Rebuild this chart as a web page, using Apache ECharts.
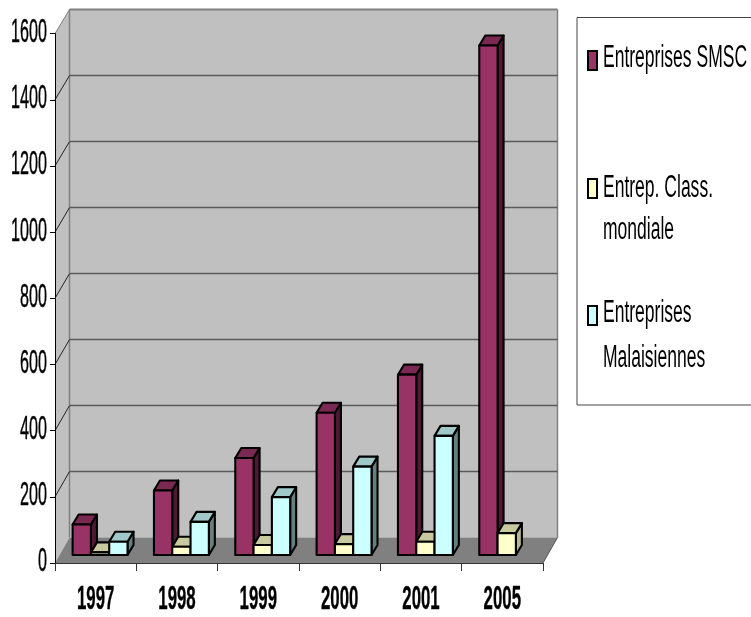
<!DOCTYPE html>
<html><head><meta charset="utf-8">
<style>html,body{margin:0;padding:0;background:#fff}#c{width:751px;height:617px}</style>
<script src="https://cdn.jsdelivr.net/npm/echarts@6/dist/echarts.min.js"></script>
</head><body><div id="c"></div>
<script>
const categories = ['1997','1998','1999','2000','2001','2005'];
const yTicks = [0,200,400,600,800,1000,1200,1400,1600];
const smsc = [92,195,293,430,545,1540];
const classMondiale = [8,25,30,33,40,66];
const malaisiennes = [40,100,175,267,360,null];
const names = ['Entreprises SMSC','Entrep. Class. mondiale','Entreprises Malaisiennes'];

const WALL_DX = 14.5, WALL_DY_BOTTOM = -25.5, WALL_DY_TOP = -24;
const PLANE_DX = 4.4, PLANE_DY = -8;
const BAR_W = 18.3, BAR_DX = 6, BAR_DY = -10;
const palette = [
  {front:'#993366', top:'#7A2952', side:'#4D1A33'},
  {front:'#FFFFCC', top:'#C9C9A0', side:'#B8B890'},
  {front:'#CCFFFF', top:'#A0C8C8', side:'#668080'}
];
const poly = (pts, fill, stroke, lw) => ({type:'polygon', shape:{points:pts},
  style:{fill, stroke: stroke||'none', lineWidth: lw||0, lineJoin:'round'}});
const line = (a,b,stroke,lw) => ({type:'line', shape:{x1:a[0],y1:a[1],x2:b[0],y2:b[1]},
  style:{stroke, lineWidth:lw}});
const backY = (g,y) => y + WALL_DY_BOTTOM + (WALL_DY_TOP-WALL_DY_BOTTOM)*(g.y+g.height-y)/g.height;

function renderWalls(params){
  const g = params.coordSys, l=g.x, r=g.x+g.width, t=g.y, b=g.y+g.height;
  const d=WALL_DX, bt=backY(g,t), bb=backY(g,b);
  return {type:'group', children:[
    poly([[l+d,bt],[r+d,bt],[r+d,bb],[l+d,bb]],'#C0C0C0'),
    poly([[l,t],[l+d,bt],[l+d,bb],[l,b]],'#C0C0C0'),
    poly([[l,b],[r,b],[r+d,bb],[l+d,bb]],'#808080'),
    line([l+d,bt],[l+d,bb],'#808080',1.5),
    line([r+d,bt],[r+d,bb],'#808080',1.5),
    line([r,b],[r+d,bb],'#555',1)
  ]};
}
function renderGrid(params, api){
  const g = params.coordSys, v = api.value(0), y = api.coord([0,v])[1];
  if(v===0) return {type:'group', children:[]};
  const top = v===1600, c = top?'#808080':'#5a5a5a', by = backY(g,y);
  return {type:'group', children:[
    line([g.x,y],[g.x+WALL_DX,by], top?'#808080':'#222', 1),
    line([g.x+WALL_DX,by],[g.x+g.width+WALL_DX,by], c, top?2:1.5)
  ]};
}
function makeBar(si){
  return function(params, api){
    const v = api.value(1);
    if(v==null || isNaN(v)) return {type:'group', children:[]};
    const cat = api.value(0);
    const base = api.coord([cat,0]), topP = api.coord([cat,v]);
    const x0 = base[0]+PLANE_DX+(si-1.5)*BAR_W, x1 = x0+BAR_W;
    const yb = base[1]+PLANE_DY, yt = topP[1]+PLANE_DY;
    const c = palette[si];
    return {type:'group', children:[
      poly([[x1,yb],[x1+BAR_DX,yb+BAR_DY],[x1+BAR_DX,yt+BAR_DY],[x1,yt]], c.side,'#000',2.1),
      poly([[x0,yt],[x1,yt],[x1+BAR_DX,yt+BAR_DY],[x0+BAR_DX,yt+BAR_DY]], c.top,'#000',2.1),
      poly([[x0,yb],[x1,yb],[x1,yt],[x0,yt]], c.front,'#000',2.1)
    ]};
  };
}
function renderYLabel(params, api){
  const v = api.value(0), y = api.coord([0,v])[1];
  return {type:'text', x:params.coordSys.x-8, y:y-1, scaleX:0.475,
    style:{text:String(v), align:'right', verticalAlign:'middle',
      font:'34px "Liberation Sans"', fill:'#000', stroke:'#000', lineWidth:0.5}};
}
function renderXLabel(params, api){
  const i = api.value(0), x = api.coord([i,0])[0];
  return {type:'text', x:x, y:600, scaleX:0.51,
    style:{text:categories[i], align:'center', verticalAlign:'middle',
      font:'bold 33px "Liberation Sans"', fill:'#000', stroke:'#000', lineWidth:0.4}};
}
const rows = a => a.map((v,i)=>[i,v==null?'-':v]);
const series = [
  {type:'custom', coordinateSystem:'cartesian2d', silent:true, clip:false, z:1, data:[[0]], encode:{x:[],y:[]}, renderItem:renderWalls},
  {type:'custom', coordinateSystem:'cartesian2d', silent:true, clip:false, z:1, data:yTicks.map(v=>[v]), encode:{x:[],y:[]}, renderItem:renderGrid}
];
[smsc,classMondiale,malaisiennes].forEach((arr,si)=>{
  series.push({name:names[si], type:'custom', coordinateSystem:'cartesian2d', clip:false, z:4,
    data:rows(arr), encode:{x:0,y:1}, renderItem:makeBar(si)});
});
series.push({type:'custom', coordinateSystem:'cartesian2d', silent:true, clip:false, z:6, data:yTicks.map(v=>[v]), encode:{x:[],y:[]}, renderItem:renderYLabel});
series.push({type:'custom', coordinateSystem:'cartesian2d', silent:true, clip:false, z:6, data:categories.map((c,i)=>[i]), encode:{x:[],y:[]}, renderItem:renderXLabel});

const legendText = (t,y) => ({type:'text', x:603, y:y, scaleX:0.565, z:11,
  style:{text:t, font:'31px "Liberation Sans"', fill:'#000', align:'left', verticalAlign:'middle'}});
const swatch = (y,h,c) => ({type:'rect', z:11, shape:{x:588,y:y,width:9,height:h}, style:{fill:c, stroke:'#000', lineWidth:2}});

const chart = echarts.init(document.getElementById('c'), null, {renderer:'canvas'});
chart.setOption({
  animation:false, backgroundColor:'#fff',
  grid:{left:55, right:208, top:33.6, bottom:54, containLabel:false},
  xAxis:{type:'category', data:categories, z:3,
    axisLine:{lineStyle:{color:'#333',width:1}},
    axisTick:{show:true, length:8, lineStyle:{color:'#333',width:1}},
    axisLabel:{show:false}, splitLine:{show:false}},
  yAxis:{type:'value', min:0, max:1600, interval:200, z:3,
    axisLine:{show:true, lineStyle:{color:'#000',width:1}},
    axisTick:{show:true, length:5, lineStyle:{color:'#000',width:1}},
    axisLabel:{show:false}, splitLine:{show:false}},
  series,
  graphic:[
    {type:'rect', z:10, shape:{x:577,y:17.5,width:190,height:387.5}, style:{fill:'#fff',stroke:'#444',lineWidth:1}},
    swatch(51,19,palette[0].front),
    swatch(179,19,palette[1].front),
    swatch(306,19,palette[2].front),
    legendText('Entreprises SMSC',58),
    legendText('Entrep. Class.',188),
    legendText('mondiale',230),
    legendText('Entreprises',313),
    legendText('Malaisiennes',358)
  ]
});
</script></body></html>
